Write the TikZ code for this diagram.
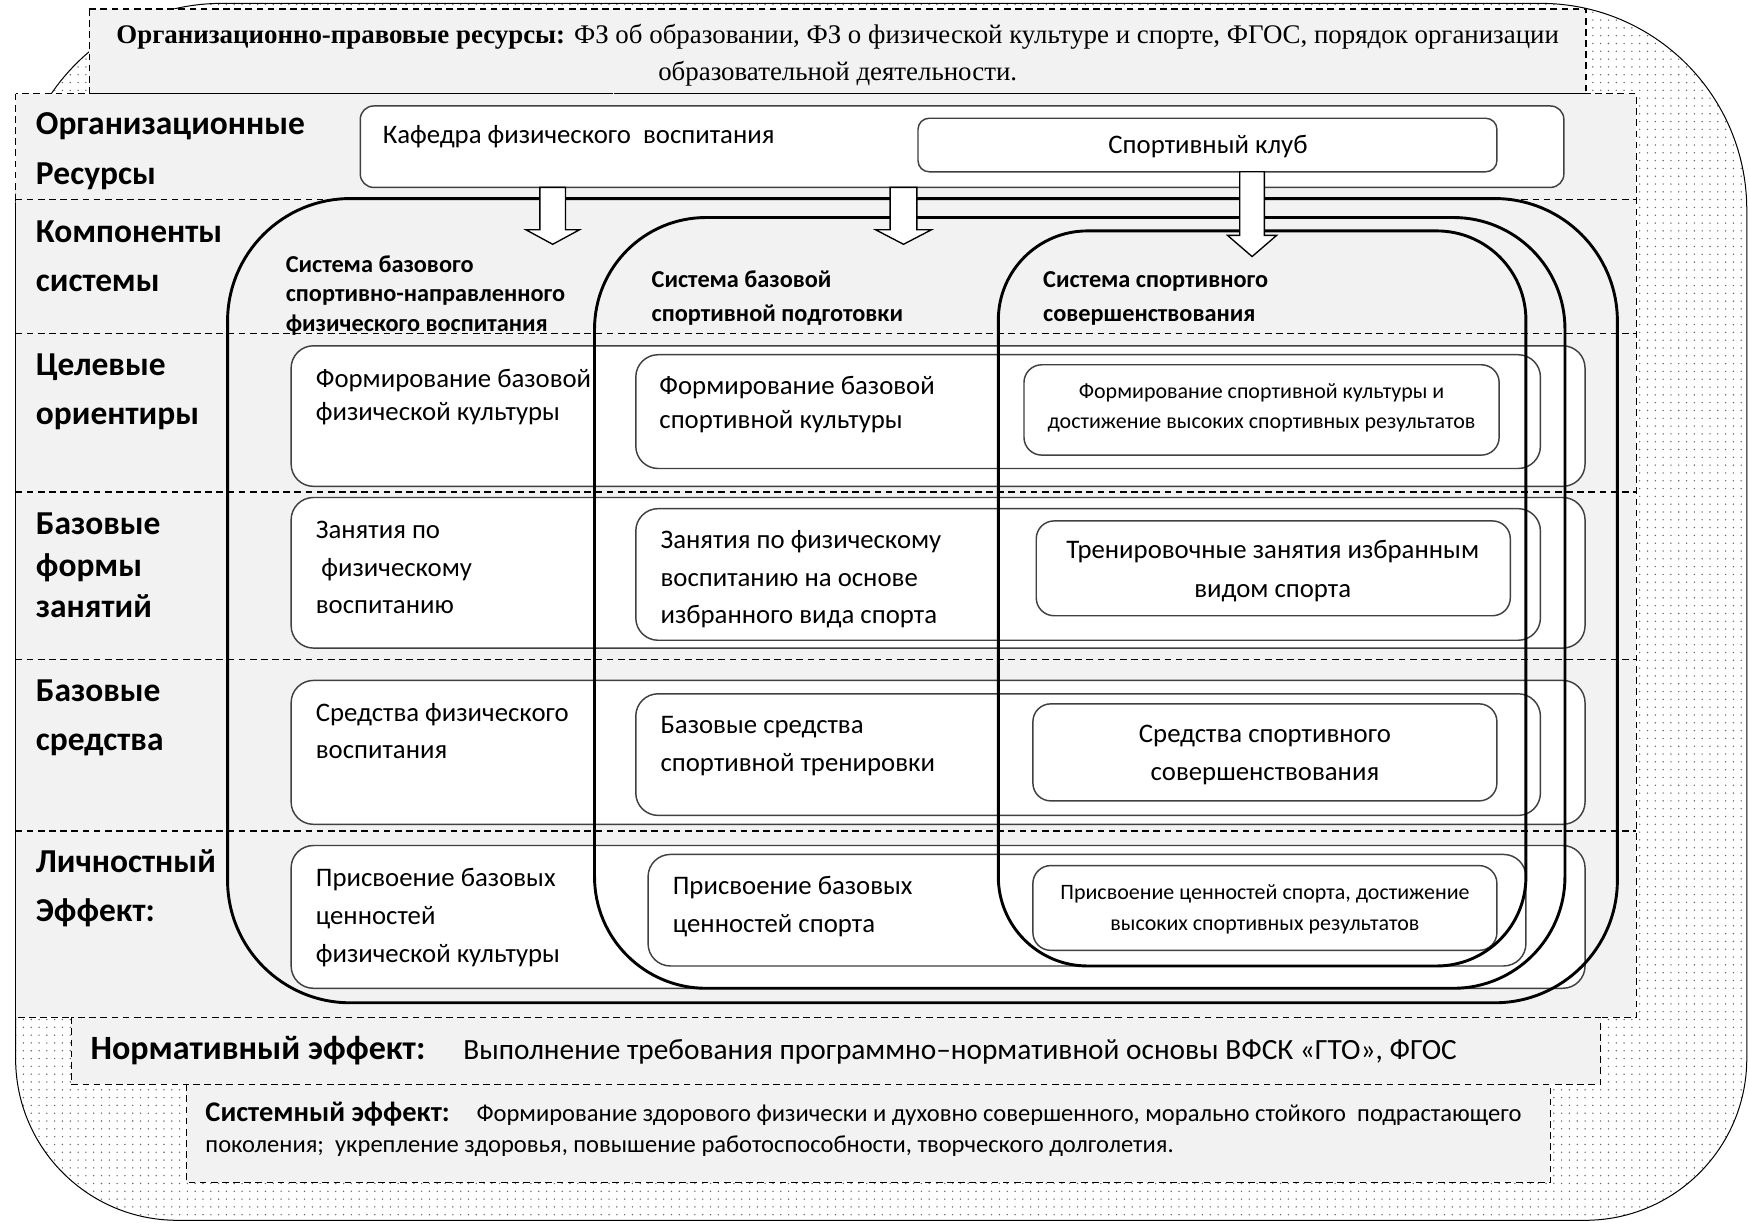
\documentclass[tikz,border=0pt]{standalone}
\usepackage{fontspec}
\setmainfont{Carlito}
\newfontfamily\timesfont{Liberation Serif}
\usetikzlibrary{patterns.meta}
\definecolor{panel}{HTML}{F2F2F2}
\definecolor{frame}{HTML}{404040}
\newcommand\linesL[1]{\vtop{\halign{##\hfil\cr#1\crcr}}}
\newcommand\linesC[1]{\vtop{\halign{\hfil##\hfil\cr#1\crcr}}}
\newcommand\fs[2]{\fontsize{#1}{#2}\selectfont}
\newcommand\blockarrow[6]{%
  \draw[blockarr] (#1-#5,#2) -- (#1+#5,#2) -- (#1+#5,#3) -- (#1+#6,#3) -- (#1,#4) -- (#1-#6,#3) -- (#1-#5,#3) -- cycle;}
\tikzset{
  dashbox/.style={draw=black, fill=panel, line width=1.2pt, dash pattern=on 6pt off 4pt},
  sepline/.style={draw=black, line width=1.2pt, dash pattern=on 6pt off 4pt},
  rowbox/.style={draw=frame, fill=white, line width=1.3pt, rounded corners=20pt},
  innerbox/.style={draw=frame, fill=white, line width=1.3pt, rounded corners=16pt},
  bigbox/.style={draw=black, line width=2.6pt},
  blockarr/.style={draw=black, fill=white, line width=1.2pt, line join=miter},
  txtL/.style={inner sep=0pt, anchor=base west, text=black},
  txtC/.style={inner sep=0pt, anchor=base, text=black},
  lab/.style={txtL, font=\fs{30}{44}\bfseries},
}
\begin{document}
\begin{tikzpicture}[x=1pt,y=-1pt]
\useasboundingbox (0,0) rectangle (1568,1096);
% dotted background
\begin{scope}
\clip (0,0) rectangle (1568,1096);
\path[draw=black, line width=0.9pt, preaction={fill=white},
      pattern={Dots[distance=7pt,radius=0.7pt]}, pattern color=black!60]
  (14,600) [rounded corners=185pt] -- (14,3) -- (1566,3) -- (1566,600)
  [rounded corners=145pt] -- (1566,1094) -- (14,1094) -- (14,600) -- cycle;
\end{scope}
% top box
\path[dashbox] (80,8) rectangle (1422,84);
\node[txtC, font=\timesfont\fs{24.1}{33}] (legal) at (751,39)
  {\linesC{{\bfseries Организационно-правовые ресурсы:}\hspace{8pt}ФЗ об образовании, ФЗ о физической культуре и спорте, ФГОС, порядок организации\cr образовательной деятельности.}};
% main panel
\path[dashbox] (14,84) rectangle (1467,912);
\foreach \yy in {179,299,441,591,745} \draw[sepline] (14,\yy) -- (1467,\yy);
% bottom boxes
\path[dashbox] (64,912) rectangle (1435,972);
\path[dashbox] (167,972) rectangle (1390,1060);
\node[txtL, font=\fs{26.3}{30}] (norm) at (81,950)
  {{\fontsize{30.5}{30}\selectfont\bfseries Нормативный эффект:}\hspace{34pt}Выполнение требования программно–нормативной основы ВФСК «ГТО», ФГОС};
\node[txtL, font=\fs{22}{28}] (sys) at (184,1005)
  {\linesL{{\fontsize{25.5}{28}\selectfont\bfseries Системный эффект:}\hspace{24pt}Формирование здорового физически и духовно совершенного, морально стойкого\ \ подрастающего\cr поколения;\ \ укрепление здоровья, повышение работоспособности, творческого долголетия.}};
% row labels
\node[lab] (lorg) at (32,121) {\linesL{Организационные\cr Ресурсы}};
\node[lab] (lcomp) at (32,217) {\linesL{Компоненты\cr системы}};
\node[lab] (ltgt) at (32,337) {\linesL{Целевые\cr ориентиры}};
\node[lab, font=\fs{30}{37.5}\bfseries] (lform) at (32,479) {\linesL{Базовые\cr формы\cr занятий}};
\node[lab] (lsred) at (32,629) {\linesL{Базовые\cr средства}};
\node[lab] (llich) at (32,782) {\linesL{Личностный\cr Эффект:}};
% organisational row
\draw[frame, fill=white, line width=1.3pt, rounded corners=12pt] (323,95) rectangle (1402,168);
\draw[frame, fill=white, line width=1.3pt, rounded corners=10pt] (823,106) rectangle (1342,154);
\node[txtL, font=\fs{24}{30}] (kaf) at (343,129) {Кафедра физического\ \ воспитания};
\node[txtC, font=\fs{24}{30}] (club) at (1083,138) {Спортивный клуб};
% component headers
\node[txtL, font=\fs{21.8}{26.5}\bfseries] (h1) at (256,244) {\linesL{Система базового\cr спортивно-направленного\cr физического воспитания}};
\node[txtL, font=\fs{21.8}{30}\bfseries] (h2) at (584,258) {\linesL{Система базовой\cr спортивной подготовки}};
\node[txtL, font=\fs{21.8}{30}\bfseries] (h3) at (935,258) {\linesL{Система спортивного\cr совершенствования}};
% row 1: targets
\path[rowbox] (261,310) rectangle (1421,436);
\path[rowbox] (570,318) rectangle (1381,420);
\path[innerbox] (918,327) rectangle (1344,408);
\node[txtL, font=\fs{24}{30}] (t11) at (283,347) {\linesL{Формирование базовой\cr физической культуры}};
\node[txtL, font=\fs{24}{30}] (t12) at (591,354) {\linesL{Формирование базовой\cr спортивной культуры}};
\node[txtC, font=\fs{19.7}{27}] (t13) at (1131,357.5) {\linesC{Формирование спортивной культуры и\cr достижение высоких спортивных результатов}};
% row 2: forms
\path[rowbox] (261,446) rectangle (1421,581);
\path[rowbox] (570,456) rectangle (1381,574);
\path[innerbox] (929,467) rectangle (1354,552);
\node[txtL, font=\fs{24}{33.5}] (t21) at (283,483) {\linesL{Занятия по\cr\hspace{5pt}физическому\cr воспитанию}};
\node[txtL, font=\fs{24}{33.5}] (t22) at (592,492) {\linesL{Занятия по физическому\cr воспитанию на основе\cr избранного вида спорта}};
\node[txtC, font=\fs{24}{35}] (t23) at (1141,501) {\linesC{Тренировочные занятия избранным\cr видом спорта}};
% row 3: means
\path[rowbox] (261,610) rectangle (1421,739);
\path[rowbox] (570,622) rectangle (1381,731);
\path[innerbox] (926,631) rectangle (1342,718);
\node[txtL, font=\fs{24}{33}] (t31) at (283,647) {\linesL{Средства физического\cr воспитания}};
\node[txtL, font=\fs{24}{34}] (t32) at (592,658) {\linesL{Базовые средства\cr спортивной тренировки}};
\node[txtC, font=\fs{24}{34}] (t33) at (1134,666) {\linesC{Средства спортивного\cr совершенствования}};
% row 4: personal effect
\path[rowbox] (261,758) rectangle (1421,886);
\path[rowbox] (581,766) rectangle (1368,866);
\path[innerbox] (926,776) rectangle (1342,852);
\node[txtL, font=\fs{24}{34}] (t41) at (283,795) {\linesL{Присвоение базовых\cr ценностей\cr физической культуры}};
\node[txtL, font=\fs{24}{34}] (t42) at (603,802) {\linesL{Присвоение базовых\cr ценностей спорта}};
\node[txtC, font=\fs{19.7}{28}] (t43) at (1134,806.5) {\linesC{Присвоение ценностей спорта, достижение\cr высоких спортивных результатов}};
% big system outlines
\draw[bigbox, rounded corners=110pt] (204,178) rectangle (1450,899);
\draw[bigbox, rounded corners=100pt] (533,195) rectangle (1403,886);
\draw[bigbox, rounded corners=80pt] (895,207) rectangle (1368,866);
% block arrows
\blockarrow{495.5}{168}{206}{219}{11.5}{24}
\blockarrow{810}{168}{206}{219}{12}{25}
\blockarrow{1122.5}{154}{211}{230}{11}{22}
\end{tikzpicture}
\end{document}
